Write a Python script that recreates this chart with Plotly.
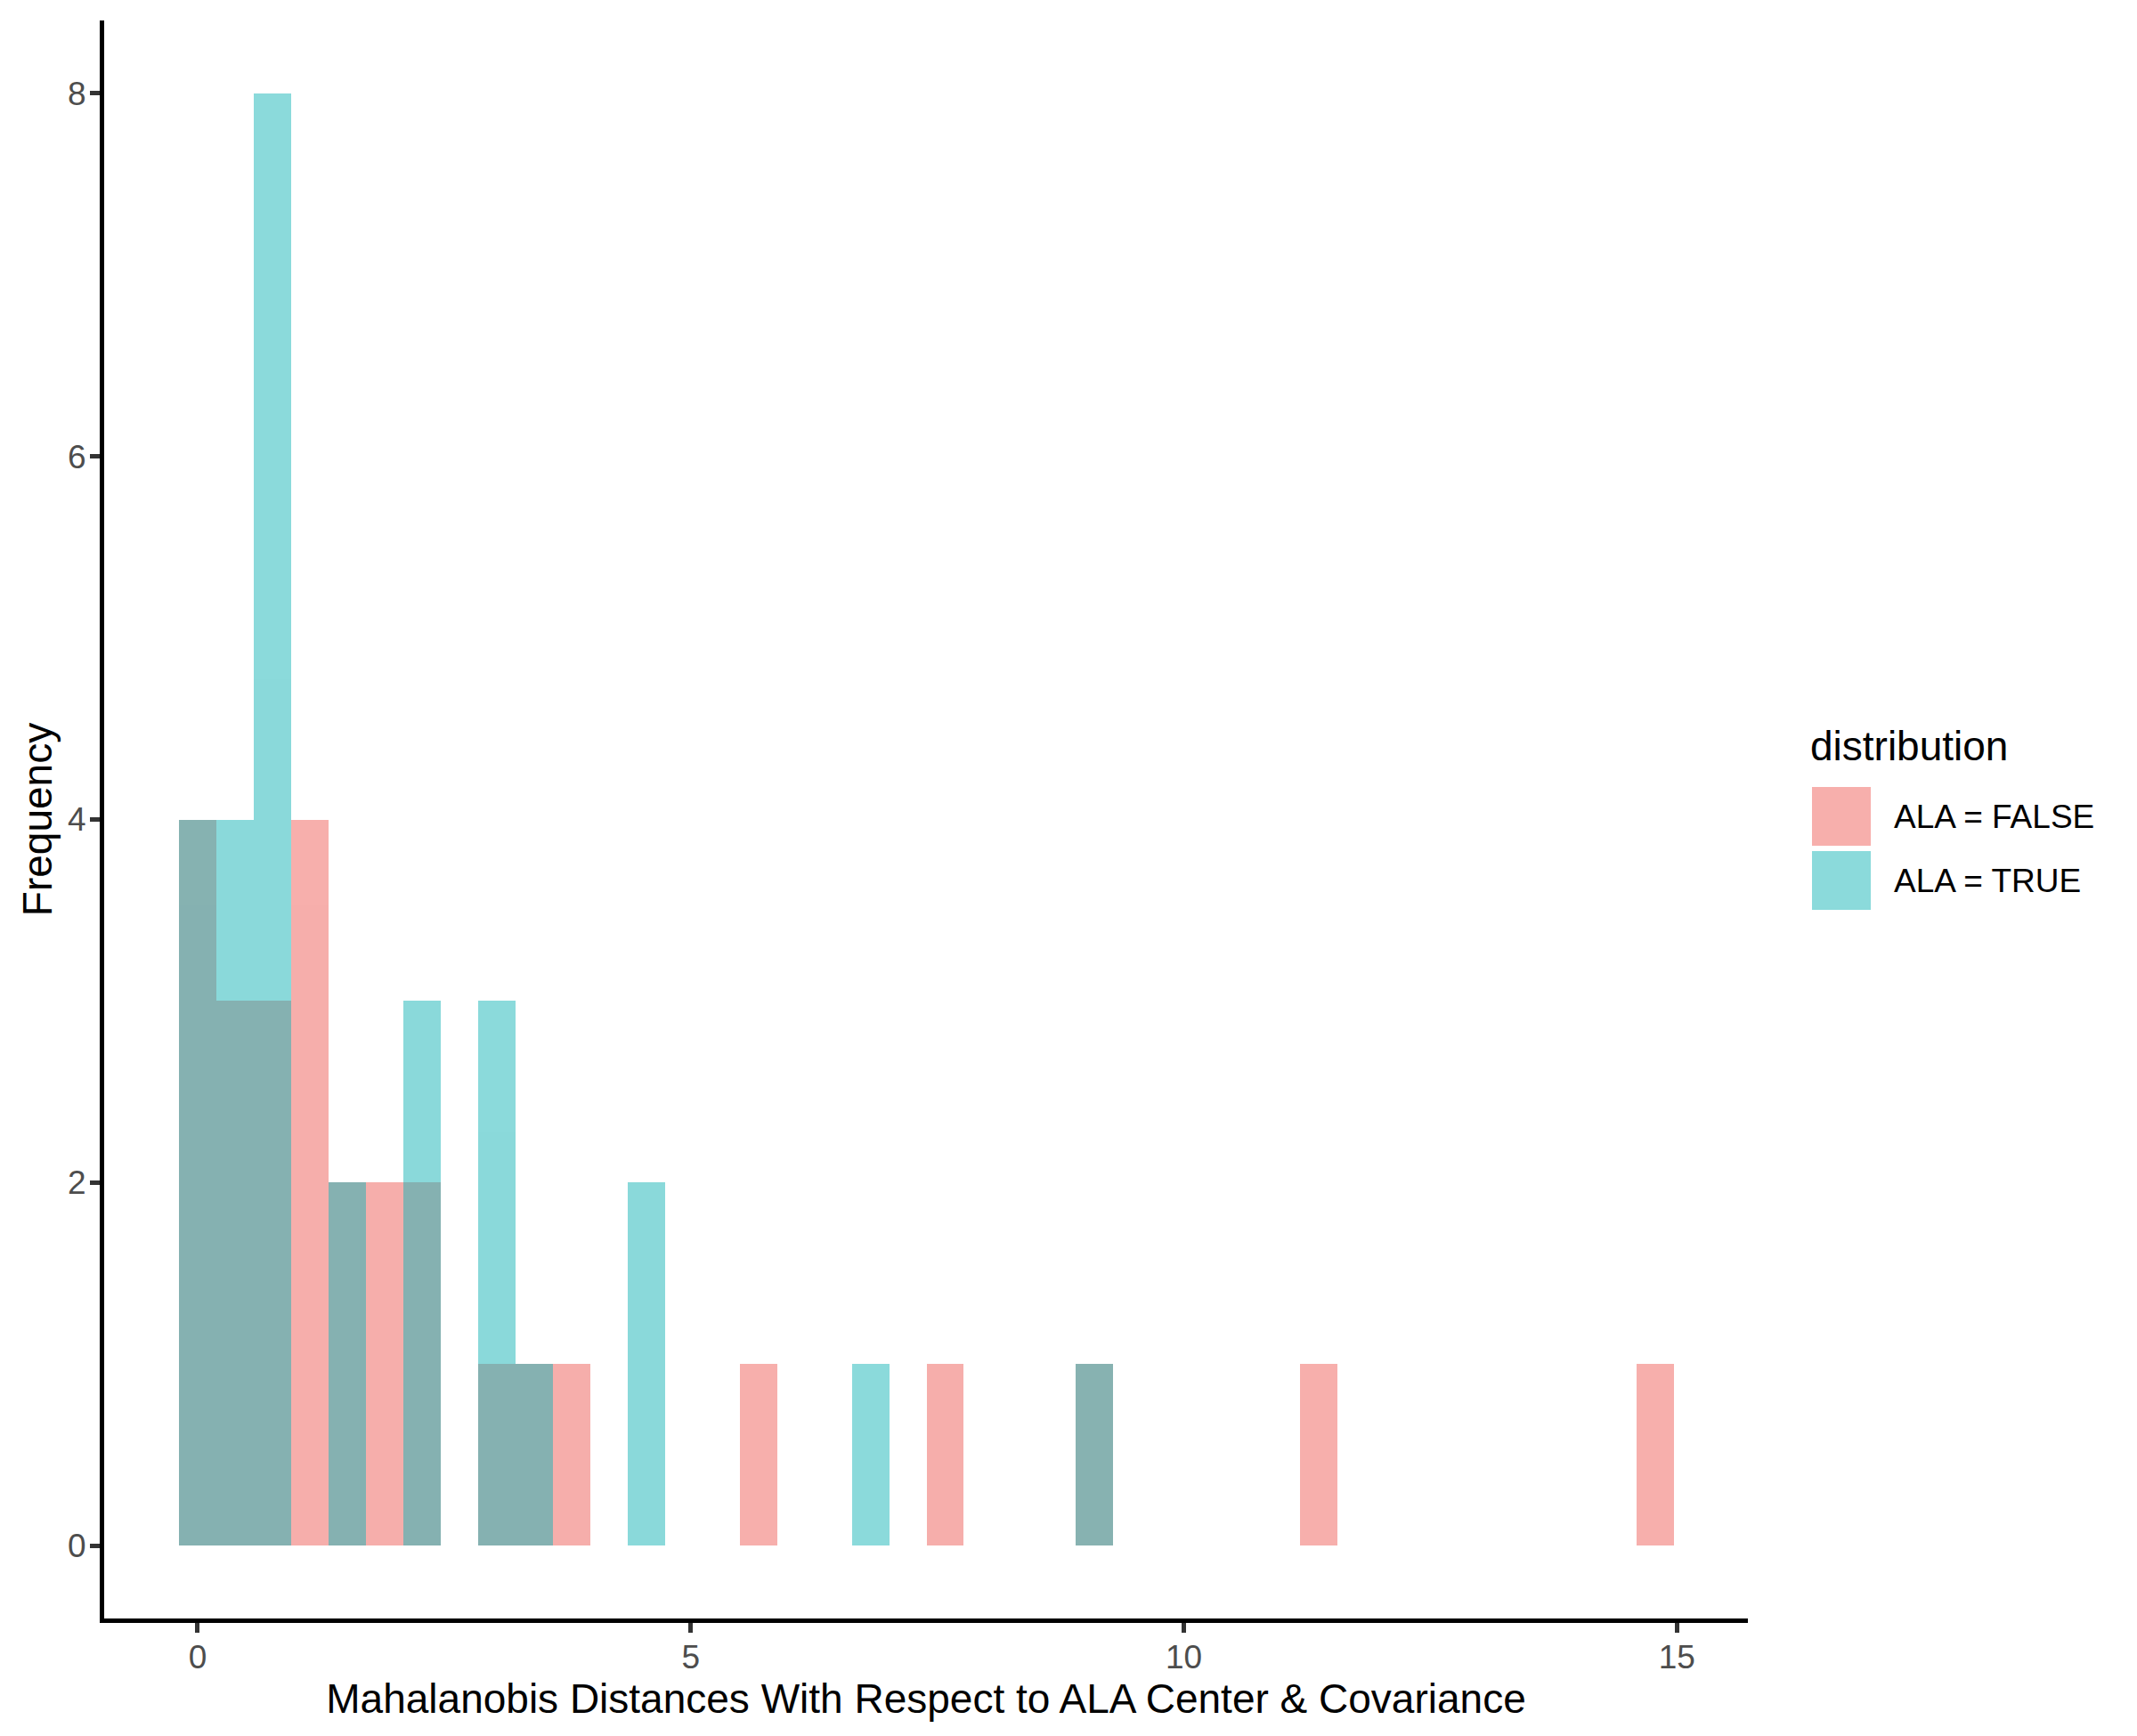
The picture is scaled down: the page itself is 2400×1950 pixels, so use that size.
import plotly.graph_objects as go

# histogram of Mahalanobis distances, 40 bins of equal width starting at 0
bin_width = 0.379
n_bins = 40
counts_false = [4, 3, 3, 4, 2, 2, 2, 0, 1, 1, 1, 0, 0, 0, 0, 1, 0, 0, 0, 0,
                1, 0, 0, 0, 1, 0, 0, 0, 0, 0, 1, 0, 0, 0, 0, 0, 0, 0, 0, 1]
counts_true = [4, 4, 8, 0, 2, 0, 3, 0, 3, 1, 0, 0, 2, 0, 0, 0, 0, 0, 1, 0,
               0, 0, 0, 0, 1, 0, 0, 0, 0, 0, 0, 0, 0, 0, 0, 0, 0, 0, 0, 0]
series_names = ["ALA = FALSE", "ALA = TRUE"]
x_ticks = [0, 5, 10, 15]
y_ticks = [0, 2, 4, 6, 8]

FONT = "Liberation Sans, Arial, sans-serif"
PINK = "rgb(239,95,89)"
TEAL = "rgb(23,181,183)"
ALPHA = 0.5

# the page body has an 8px margin, so work in window pixels minus that
OFF = 8
W, H = 2400 - OFF, 1950 - OFF
L, R, T, B = 117 - OFF, 1963 - OFF, 23 - OFF, 1818 - OFF  # plot panel

centers = [k * bin_width for k in range(n_bins)]

fig = go.Figure()
for counts, col, name in [(counts_false, PINK, series_names[0]),
                          (counts_true, TEAL, series_names[1])]:
    fig.add_trace(go.Bar(
        x=centers, y=counts, width=bin_width,
        marker=dict(color=col, line=dict(width=0)),
        opacity=ALPHA, name=name, showlegend=False,
    ))

def px_x(p):
    return (p - OFF - L) / (R - L)

def px_y(p):
    return (B - (p - OFF)) / (B - T)

# legend drawn by hand so the keys get ggplot-sized squares
shapes = []
annotations = [dict(x=px_x(2031), y=px_y(838), xref="paper", yref="paper",
                    text="distribution", showarrow=False, xanchor="left",
                    yanchor="middle", font=dict(family=FONT, size=46, color="black"))]
for i, (name, col) in enumerate(zip(series_names, [PINK, TEAL])):
    top = 884 + i * 72
    shapes.append(dict(type="rect", xref="paper", yref="paper",
                       x0=px_x(2035), x1=px_x(2101), y0=px_y(top + 66), y1=px_y(top),
                       fillcolor=col, opacity=ALPHA, line=dict(width=0)))
    annotations.append(dict(x=px_x(2125), y=px_y(top + 33), xref="paper", yref="paper",
                            text=name, showarrow=False, xanchor="left", yanchor="middle",
                            font=dict(family=FONT, size=37, color="black")))

axis_common = dict(
    showgrid=False, zeroline=False, showline=True, linecolor="black", linewidth=5,
    ticks="outside", ticklen=11, tickwidth=5, tickcolor="#333333",
    tickfont=dict(family=FONT, size=37, color="#4D4D4D"),
)

fig.update_layout(
    width=W, height=H,
    margin=dict(l=L, r=W - R, t=T, b=H - B),
    plot_bgcolor="white", paper_bgcolor="white",
    barmode="overlay", bargap=0,
    font=dict(family=FONT),
    xaxis=dict(range=[-0.948, 15.72], tickvals=x_ticks, ticklabelstandoff=-4,
               title=dict(text="Mahalanobis Distances With Respect to ALA Center & Covariance",
                          font=dict(family=FONT, size=46, color="black"), standoff=0),
               **axis_common),
    yaxis=dict(range=[-0.4, 8.4], tickvals=y_ticks, ticklabelstandoff=-3,
               title=dict(text="Frequency", font=dict(family=FONT, size=46, color="black"),
                          standoff=4),
               **axis_common),
    shapes=shapes,
    annotations=annotations,
    showlegend=False,
)

fig.write_html("out.html")
